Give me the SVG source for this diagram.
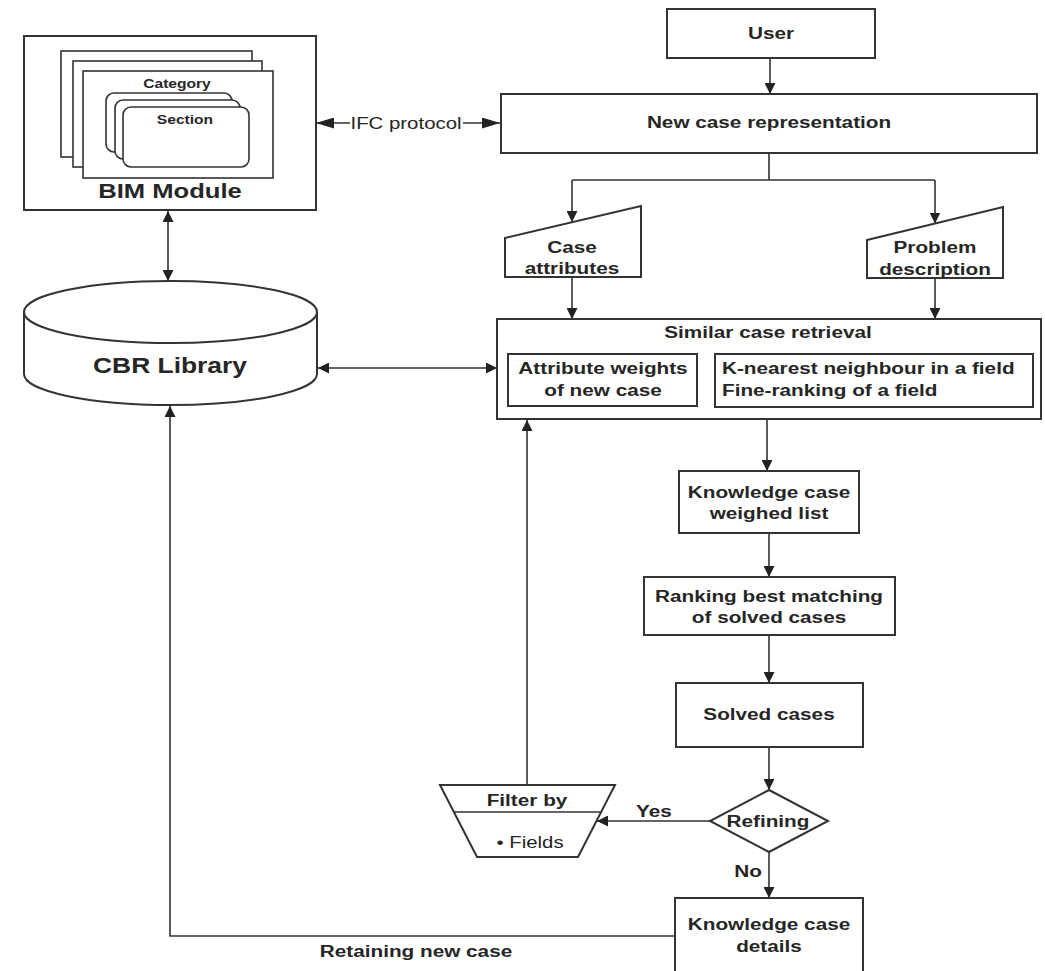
<svg xmlns="http://www.w3.org/2000/svg" width="1045" height="971" viewBox="0 0 1045 971">
  <defs>
    <style>
      .box { fill: #fff; stroke: #333; stroke-width: 2; }
      .thin { fill: #fff; stroke: #333; stroke-width: 1.6; }
      .ln { fill: none; stroke: #333; stroke-width: 1.6; }
      .arr { marker-end: url(#ah); }
      .arr2 { marker-start: url(#ah); marker-end: url(#ah); }
      .t { font-family: "Liberation Sans", Arial, Helvetica, sans-serif; font-weight: bold; font-size: 17px; text-anchor: middle; fill: #262626; }
      .r { font-weight: normal; }
      .s { text-anchor: start; }
    </style>
    <marker id="ah" viewBox="0 0 11 11" refX="11" refY="5.5" markerWidth="11" markerHeight="11" markerUnits="userSpaceOnUse" orient="auto-start-reverse">
      <path d="M0,0 L11,5.5 L0,11 z" fill="#222"/>
    </marker>
    <marker id="ahl" viewBox="0 0 18 11" refX="18" refY="5.5" markerWidth="18" markerHeight="11" markerUnits="userSpaceOnUse" orient="auto-start-reverse">
      <path d="M0,0 L18,5.5 L0,11 z" fill="#222"/>
    </marker>
  </defs>
  <rect width="1045" height="971" fill="#fff"/>

  <!-- connectors -->
  <g id="connectors">
    <path class="ln" d="M316,123 H350" marker-start="url(#ahl)"/>
    <path class="ln" d="M463,123 H500" marker-end="url(#ahl)"/>
    <text class="t r" transform="matrix(1.2 0 0 1 406 129)">IFC protocol</text>
    <path class="ln arr2" d="M168,211 V281"/>
    <path class="ln arr2" d="M318,368 H497"/>
    <path class="ln arr" d="M770,58 V94"/>
    <path class="ln" d="M769,153 V180 M572,180 H935"/>
    <path class="ln arr" d="M572,180 V222"/>
    <path class="ln arr" d="M935,180 V223.5"/>
    <path class="ln arr" d="M572,277 V319"/>
    <path class="ln arr" d="M935,278 V319"/>
    <path class="ln arr" d="M767,419 V471"/>
    <path class="ln arr" d="M769,533 V577"/>
    <path class="ln arr" d="M769,635 V683"/>
    <path class="ln arr" d="M769,747 V790"/>
    <path class="ln arr" d="M710,821 H597"/>
    <path class="ln arr" d="M769,852 V898"/>
    <path class="ln arr" d="M527,785 V420"/>
    <path class="ln arr" d="M675,936 H170 V406"/>
    <text class="t" transform="matrix(1.22 0 0 1 654 817)">Yes</text>
    <text class="t" transform="matrix(1.22 0 0 1 748 877)">No</text>
    <text class="t" transform="matrix(1.22 0 0 1 416 957)">Retaining new case</text>
  </g>

  <!-- BIM module with stacked category pages and section cards -->
  <g id="bim-module">
    <rect class="box" x="24" y="36" width="292" height="174"/>
    <rect class="thin" x="61" y="51" width="191" height="106"/>
    <rect class="thin" x="73" y="61" width="189" height="106"/>
    <rect class="thin" x="83" y="71" width="190" height="107"/>
    <text class="t" style="font-size:13px" transform="matrix(1.2 0 0 1 177 88)">Category</text>
    <rect class="thin" x="106" y="93" width="126" height="59" rx="8"/>
    <rect class="thin" x="115" y="100" width="125" height="59" rx="8"/>
    <rect class="thin" x="123" y="107" width="126" height="60" rx="8"/>
    <text class="t" style="font-size:13px" transform="matrix(1.2 0 0 1 185 124)">Section</text>
    <text class="t" style="font-size:20px" transform="matrix(1.28 0 0 1 170 198)">BIM Module</text>
  </g>

  <g id="cbr-library">
    <path class="box" d="M24,312 V374 A146.5,31 0 0 0 317,374 V312"/>
    <ellipse class="box" cx="170.5" cy="312" rx="146.5" ry="31"/>
    <text class="t" style="font-size:22px" transform="matrix(1.2 0 0 1 170 373)">CBR Library</text>
  </g>

  <g id="user">
    <rect class="box" x="667" y="9" width="208" height="49"/>
    <text class="t" transform="matrix(1.22 0 0 1 771 39)">User</text>
  </g>

  <g id="new-case">
    <rect class="box" x="501" y="94" width="536" height="59"/>
    <text class="t" transform="matrix(1.22 0 0 1 769 128)">New case representation</text>
  </g>

  <g id="case-attributes">
    <path class="box" d="M505,238 L641,206 V277 H505 Z"/>
    <text class="t" transform="matrix(1.22 0 0 1 572 253)">Case</text>
    <text class="t" transform="matrix(1.22 0 0 1 572 274)">attributes</text>
  </g>

  <g id="problem-description">
    <path class="box" d="M867,240 L1003,207 V278 H867 Z"/>
    <text class="t" transform="matrix(1.22 0 0 1 935 253)">Problem</text>
    <text class="t" transform="matrix(1.22 0 0 1 935 275)">description</text>
  </g>

  <g id="similar-case-retrieval">
    <rect class="box" x="497" y="319" width="544" height="100"/>
    <text class="t" transform="matrix(1.22 0 0 1 768 338)">Similar case retrieval</text>
    <rect class="box" x="508" y="354" width="189" height="52"/>
    <text class="t" transform="matrix(1.22 0 0 1 603 374)">Attribute weights</text>
    <text class="t" transform="matrix(1.22 0 0 1 603 396)">of new case</text>
    <rect class="box" x="715" y="354" width="318" height="53"/>
    <text class="t s" transform="matrix(1.22 0 0 1 722 374)">K-nearest neighbour in a field</text>
    <text class="t s" transform="matrix(1.22 0 0 1 722 396)">Fine-ranking of a field</text>
  </g>

  <g id="weighed-list">
    <rect class="box" x="679" y="471" width="180" height="62"/>
    <text class="t" transform="matrix(1.22 0 0 1 769 498)">Knowledge case</text>
    <text class="t" transform="matrix(1.22 0 0 1 769 519)">weighed list</text>
  </g>

  <g id="ranking">
    <rect class="box" x="644" y="577" width="251" height="58"/>
    <text class="t" transform="matrix(1.22 0 0 1 769 602)">Ranking best matching</text>
    <text class="t" transform="matrix(1.22 0 0 1 769 623)">of solved cases</text>
  </g>

  <g id="solved-cases">
    <rect class="box" x="676" y="683" width="187" height="64"/>
    <text class="t" transform="matrix(1.22 0 0 1 769 720)">Solved cases</text>
  </g>

  <g id="refining">
    <path class="box" d="M769,790 L828,821 L769,852 L710,821 Z"/>
    <text class="t" transform="matrix(1.22 0 0 1 768 827)">Refining</text>
  </g>

  <g id="filter">
    <path class="box" d="M440,785 H615 L578,857 H477 Z"/>
    <path class="ln" d="M454,812 H601"/>
    <text class="t" transform="matrix(1.22 0 0 1 527 806)">Filter by</text>
    <text class="t r" transform="matrix(1.2 0 0 1 530 848)">• Fields</text>
  </g>

  <!-- the box runs off the bottom edge of the sheet -->
  <g id="case-details">
    <rect class="box" x="675" y="898" width="188" height="80"/>
    <text class="t" transform="matrix(1.22 0 0 1 769 930)">Knowledge case</text>
    <text class="t" transform="matrix(1.22 0 0 1 769 952)">details</text>
  </g>
</svg>
